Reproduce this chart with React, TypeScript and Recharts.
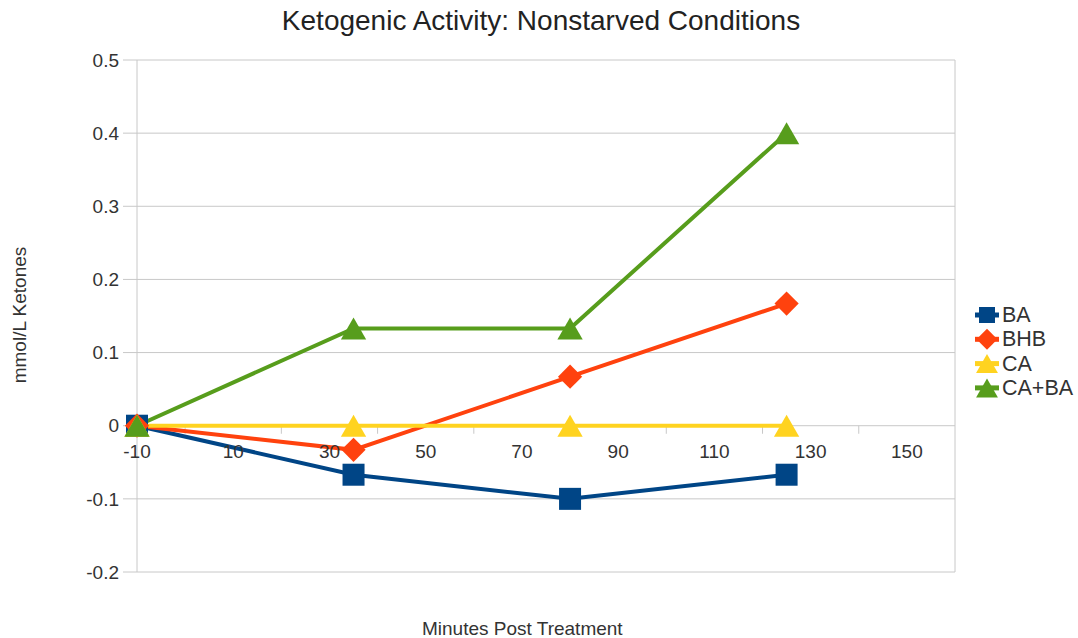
import React from "react";
import { LineChart, Line, XAxis, YAxis, CartesianGrid, ReferenceLine } from "recharts";

// minutes post treatment
const X_VALUES = [-10, 35, 80, 125];
const BA = [0, -0.067, -0.1, -0.067];
const BHB = [0, -0.033, 0.067, 0.167];
const CA = [0, 0, 0, 0];
const CA_BA = [0, 0.133, 0.133, 0.4];

const X_TICKS = [-10, 10, 30, 50, 70, 90, 110, 130, 150];
const X_MINOR = [0, 20, 40, 60, 80, 100, 120, 140];
const Y_TICKS = [-0.2, -0.1, 0, 0.1, 0.2, 0.3, 0.4, 0.5];

const FONT = "'Liberation Sans', Arial, sans-serif";
const GRID = "#c8c8c8";
const TEXT = "#333333";

type Shape = "square" | "diamond" | "triangle";

const SERIES: { key: string; name: string; color: string; shape: Shape }[] = [
  { key: "BA", name: "BA", color: "#004586", shape: "square" },
  { key: "BHB", name: "BHB", color: "#ff420e", shape: "diamond" },
  { key: "CA", name: "CA", color: "#ffd320", shape: "triangle" },
  { key: "CA_BA", name: "CA+BA", color: "#579d1c", shape: "triangle" },
];

const data = X_VALUES.map((x, i) => ({
  x,
  BA: BA[i],
  BHB: BHB[i],
  CA: CA[i],
  CA_BA: CA_BA[i],
}));

const Marker = ({ cx, cy, shape, color, size }: { cx: number; cy: number; shape: Shape; color: string; size: number }) => {
  const h = size / 2;
  if (shape === "square") {
    return <rect x={cx - h} y={cy - h} width={size} height={size} fill={color} />;
  }
  if (shape === "diamond") {
    const d = h * 1.1;
    return <polygon points={`${cx},${cy - d} ${cx + d},${cy} ${cx},${cy + d} ${cx - d},${cy}`} fill={color} />;
  }
  const w = h * 1.15;
  return <polygon points={`${cx},${cy - h} ${cx + w},${cy + h} ${cx - w},${cy + h}`} fill={color} />;
};

const makeDot = (shape: Shape, color: string) => (props: any) => {
  const { cx, cy, index } = props;
  if (cx == null || cy == null) return <g key={index} />;
  return <Marker key={index} cx={cx} cy={cy} shape={shape} color={color} size={22} />;
};

// x labels sit under the zero line, not at the bottom of the plot
const XTick = (props: any) => {
  const { x, y, payload } = props;
  return (
    <text x={x} y={y - 121} textAnchor="middle" dominantBaseline="central" fontSize={19} fill={TEXT} fontFamily={FONT}>
      {payload.value}
    </text>
  );
};

export default function App() {
  return (
    <div style={{ position: "absolute", left: 0, top: 0, width: 1078, height: 638, background: "#fff", fontFamily: FONT }}>
      <div style={{ position: "absolute", left: 0, width: 1082, top: 5, textAlign: "center", fontSize: 28, color: "#222" }}>
        Ketogenic Activity: Nonstarved Conditions
      </div>
      <div
        style={{
          position: "absolute", left: 20, top: 315, fontSize: 19, color: TEXT, whiteSpace: "nowrap",
          transform: "translate(-50%, -50%) rotate(-90deg)",
        }}
      >
        mmol/L Ketones
      </div>
      <div style={{ position: "absolute", left: 422, width: 200, top: 618, textAlign: "center", fontSize: 19, color: TEXT, whiteSpace: "nowrap" }}>
        Minutes Post Treatment
      </div>

      <LineChart width={1078} height={638} data={data} margin={{ top: 60, right: 123, bottom: 36, left: 0 }}>
        <CartesianGrid vertical={false} stroke={GRID} />
        <XAxis
          type="number"
          dataKey="x"
          domain={[-10, 160]}
          ticks={X_TICKS}
          interval={0}
          height={30}
          axisLine={false}
          tickLine={false}
          tickSize={0}
          tickMargin={0}
          tick={<XTick />}
        />
        <YAxis
          type="number"
          domain={[-0.2, 0.5]}
          ticks={Y_TICKS}
          interval={0}
          width={137}
          axisLine={{ stroke: GRID }}
          tickLine={{ stroke: GRID }}
          tickSize={14}
          tickMargin={4}
          tick={{ fontSize: 19, fill: TEXT, fontFamily: FONT }}
          tickFormatter={(v: number) => String(v)}
        />
        <ReferenceLine x={160} stroke={GRID} />
        {X_MINOR.map((m) => (
          <ReferenceLine key={m} segment={[{ x: m, y: 0 }, { x: m, y: -0.011 }]} stroke={GRID} />
        ))}
        {SERIES.map((s) => (
          <Line
            key={s.key}
            type="linear"
            dataKey={s.key}
            name={s.name}
            stroke={s.color}
            strokeWidth={4}
            dot={makeDot(s.shape, s.color)}
            activeDot={false}
            isAnimationActive={false}
          />
        ))}
      </LineChart>

      <svg style={{ position: "absolute", left: 970, top: 300 }} width={108} height={100}>
        {SERIES.map((s, i) => {
          const cy = 15 + i * 24.3;
          return (
            <g key={s.key}>
              <line x1={5} x2={29} y1={cy} y2={cy} stroke={s.color} strokeWidth={5} />
              <Marker cx={17} cy={cy} shape={s.shape} color={s.color} size={s.shape === "square" ? 16 : 19} />
              <text x={32} y={cy} dominantBaseline="central" fontSize={21.5} fill={TEXT} fontFamily={FONT}>
                {s.name}
              </text>
            </g>
          );
        })}
      </svg>
    </div>
  );
}
